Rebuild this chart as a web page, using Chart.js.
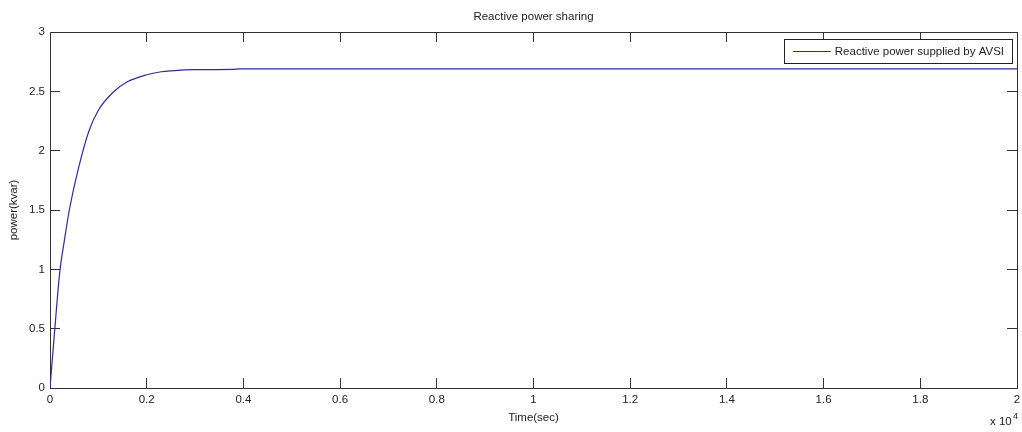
<!DOCTYPE html>
<html>
<head>
<meta charset="utf-8">
<script src="https://cdn.jsdelivr.net/npm/chart.js@4"></script>
<style>
	html, body { margin: 0; padding: 0; background: #fff; }
	#wrap { width: 1022px; height: 432px; }
</style>
</head>
<body>
<div id="wrap"><canvas id="qChart" width="1022" height="432"></canvas></div>
<script>
// time in seconds, reactive power in kvar
const timeSec = [0, 100, 200, 300, 400, 600, 800, 1000, 1300, 1600, 2000, 2300, 2500, 3000, 3800, 3900, 10000, 20000];
const powerKvar = [0, 0.5, 0.97, 1.25, 1.5, 1.87, 2.16, 2.34, 2.49, 2.58, 2.64, 2.665, 2.673, 2.683, 2.685, 2.69, 2.69, 2.69];
const seriesLabel = "Reactive power supplied by AVSI";
const xTickStep = 2000;
const yTickStep = 0.5;

const FONT = "'Liberation Sans', Arial, sans-serif";
const TEXT = "#222";
const AXIS = "#333";

// matlab-like ticks pointing into the plot box
function boxAxis(pos, min, max, step, size, extra) {
	return Object.assign({
		type: "linear",
		position: pos,
		min: min,
		max: max,
		border: { display: true, color: AXIS, width: 1 },
		grid: { drawOnChartArea: false, drawTicks: true, tickLength: -10, color: AXIS },
		ticks: { display: false, stepSize: step },
		afterFit: (s) => {
			if (s.isHorizontal()) s.height = size;
			else s.width = size;
			// label padding would otherwise shrink the plot box
			s.paddingLeft = s.paddingRight = s.paddingTop = s.paddingBottom = 0;
		},
	}, extra);
}

// legend box + "x 10^4" exponent note
const matlabExtras = {
	id: "matlabExtras",
	afterDraw(chart) {
		const { ctx, chartArea } = chart;
		const ds = chart.data.datasets[0];
		ctx.save();
		ctx.font = "11.5px " + FONT;
		const tw = ctx.measureText(ds.label).width;
		const h = 24;
		const w = 9 + 38 + 4 + tw + 8;
		const x = chartArea.right - 5 - w;
		const y = chartArea.top + 7;
		ctx.fillStyle = "#fff";
		ctx.fillRect(x, y, w, h);
		ctx.strokeStyle = "#222";
		ctx.lineWidth = 1;
		ctx.strokeRect(Math.round(x) + 0.5, y + 0.5, Math.round(w), h);
		ctx.strokeStyle = ds.borderColor;
		ctx.beginPath();
		ctx.moveTo(x + 9, y + h / 2 + 0.5);
		ctx.lineTo(x + 47, y + h / 2 + 0.5);
		ctx.stroke();
		ctx.fillStyle = TEXT;
		ctx.textBaseline = "middle";
		ctx.textAlign = "left";
		ctx.fillText(ds.label, x + 51, y + h / 2 + 1);

		ctx.textBaseline = "alphabetic";
		ctx.fillText("x 10", chartArea.right - 27, 425);
		ctx.font = "9px " + FONT;
		ctx.fillText("4", chartArea.right - 4, 419);
		ctx.restore();
	},
};

const ctx = document.getElementById("qChart").getContext("2d");
new Chart(ctx, {
	type: "line",
	data: {
		datasets: [
			{
				label: seriesLabel,
				data: timeSec.map((t, i) => ({ x: t, y: powerKvar[i] })),
				borderColor: "#2e2c98",
				borderWidth: 1.2,
				pointRadius: 0,
				fill: false,
				cubicInterpolationMode: "monotone",
				xAxisID: "x",
				yAxisID: "y",
			},
		],
	},
	options: {
		responsive: false,
		animation: false,
		layout: { padding: 0 },
		plugins: {
			legend: { display: false },
			tooltip: { enabled: false },
			title: {
				display: true,
				text: "Reactive power sharing",
				fullSize: false,
				color: TEXT,
				font: { family: FONT, size: 11.5, weight: "normal" },
				padding: { top: 10, bottom: 8.2 },
			},
		},
		scales: {
			x: boxAxis("bottom", 0, 20000, xTickStep, 44, {
				ticks: {
					stepSize: xTickStep,
					padding: 15.4,
					color: TEXT,
					font: { family: FONT, size: 11.5 },
					maxRotation: 0,
					autoSkip: false,
					callback: (v) => String(v / 1e4),
				},
				title: {
					display: true,
					text: "Time(sec)",
					color: TEXT,
					font: { family: FONT, size: 11.5 },
					padding: { top: 0, bottom: 7 },
				},
			}),
			y: boxAxis("left", 0, 3, yTickStep, 50, {
				ticks: {
					stepSize: yTickStep,
					padding: 15,
					color: TEXT,
					font: { family: FONT, size: 11.5 },
					callback: (v) => String(v),
				},
				title: {
					display: true,
					text: "power(kvar)",
					color: TEXT,
					font: { family: FONT, size: 11.5 },
					padding: { top: 7, bottom: 0 },
				},
			}),
			x2: boxAxis("top", 0, 20000, xTickStep, 0, {}),
			y2: boxAxis("right", 0, 3, yTickStep, 5, {}),
		},
	},
	plugins: [matlabExtras],
});
</script>
</body>
</html>
